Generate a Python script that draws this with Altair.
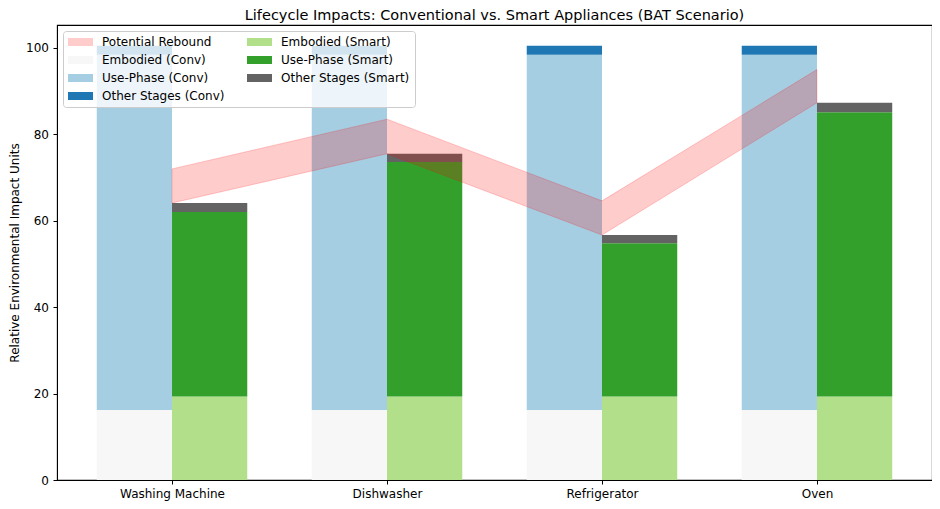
import altair as alt
import pandas as pd

categories = ["Washing Machine", "Dishwasher", "Refrigerator", "Oven"]
conv_embodied = [16.2, 16.2, 16.2, 16.2]
conv_use = [82.2, 82.2, 82.2, 82.2]
conv_other = [2.1, 2.1, 2.1, 2.1]
smart_embodied = [19.3, 19.3, 19.3, 19.3]
smart_use = [42.7, 54.3, 35.5, 65.8]
smart_other = [2.1, 1.9, 1.9, 2.2]
rebound_upper = [72.0, 83.5, 64.6, 95.0]

legend_order = ["Potential Rebound", "Embodied (Conv)", "Use-Phase (Conv)",
                "Other Stages (Conv)", "Embodied (Smart)", "Use-Phase (Smart)",
                "Other Stages (Smart)"]
legend_colors = ["#ffcccc", "#f7f7f7", "#a6cee3", "#1f78b4", "#b2df8a",
                 "#33a02c", "#636363"]

BAR_W = 0.35
rows = []
band = []
for i, cat in enumerate(categories):
    base = 0.0
    for name, vals in [("Embodied (Conv)", conv_embodied),
                       ("Use-Phase (Conv)", conv_use),
                       ("Other Stages (Conv)", conv_other)]:
        rows.append(dict(cat=cat, series=name, x0=i - BAR_W, x1=i,
                         y0=base, y1=base + vals[i]))
        base += vals[i]
    base = 0.0
    for name, vals in [("Embodied (Smart)", smart_embodied),
                       ("Use-Phase (Smart)", smart_use),
                       ("Other Stages (Smart)", smart_other)]:
        rows.append(dict(cat=cat, series=name, x0=i, x1=i + BAR_W,
                         y0=base, y1=base + vals[i]))
        base += vals[i]
    band.append(dict(cat=cat, x=i, lo=base, hi=rebound_upper[i]))

bars_df = pd.DataFrame(rows)
band_df = pd.DataFrame(band)

label_expr = "[" + ",".join("'" + c + "'" for c in categories) + "][datum.value]"

xscale = alt.Scale(domain=[-0.535, 3.535], nice=False, zero=False)
yscale = alt.Scale(domain=[0, 105.3], nice=False)

FS = 12

xaxis = alt.Axis(values=[0, 1, 2, 3], labelExpr=label_expr, title=None,
                 grid=False, tickSize=4, labelPadding=4)
yaxis = alt.Axis(values=[0, 20, 40, 60, 80, 100], title="Relative Environmental Impact Units",
                 grid=False, tickSize=4, labelPadding=4.5, titlePadding=4)

bars = alt.Chart(bars_df).mark_bar().encode(
    x=alt.X("x0:Q", scale=xscale, axis=xaxis),
    x2="x1:Q",
    y=alt.Y("y0:Q", scale=yscale, axis=yaxis),
    y2="y1:Q",
    color=alt.Color(
        "series:N",
        scale=alt.Scale(domain=legend_order, range=legend_colors),
        legend=alt.Legend(
            title=None, orient="top-left", columns=2, offset=6,
            fillColor="rgba(255,255,255,0.8)", strokeColor="#cccccc",
            cornerRadius=3, padding=5,
            symbolType="M-1,-0.67L3.17,-0.67L3.17,0.67L-1,0.67Z", symbolSize=144,
            symbolStrokeWidth=0, symbolOpacity=1,
            labelFont="DejaVu Sans", labelFontSize=FS, labelColor="black",
            labelOffset=22, columnPadding=22, rowPadding=6,
        ),
    ),
)

area = alt.Chart(band_df).mark_area(
    fill="red", fillOpacity=0.2, stroke="red", strokeOpacity=0.2, strokeWidth=1
).encode(
    x=alt.X("x:Q", scale=xscale),
    y=alt.Y("lo:Q", scale=yscale),
    y2="hi:Q",
)

chart = alt.layer(bars, area).properties(
    width=875, height=455,
    title=alt.TitleParams(
        "Lifecycle Impacts: Conventional vs. Smart Appliances (BAT Scenario)",
        font="DejaVu Sans", fontSize=14.5, fontWeight="normal", color="black",
        baseline="alphabetic", offset=5, dy=14.5,
    ),
    autosize=alt.AutoSizeParams(type="none"),
    padding={"left": 49, "top": 17, "right": 0, "bottom": 21},
).configure_view(
    stroke="black", strokeWidth=1.1
).configure_axis(
    labelFont="DejaVu Sans", labelFontSize=FS, labelColor="black",
    titleFont="DejaVu Sans", titleFontSize=FS, titleFontWeight="normal",
    titleColor="black", domainColor="black", tickColor="black",
)

chart.save("out.html", embed_options={"renderer": "svg", "actions": False})
